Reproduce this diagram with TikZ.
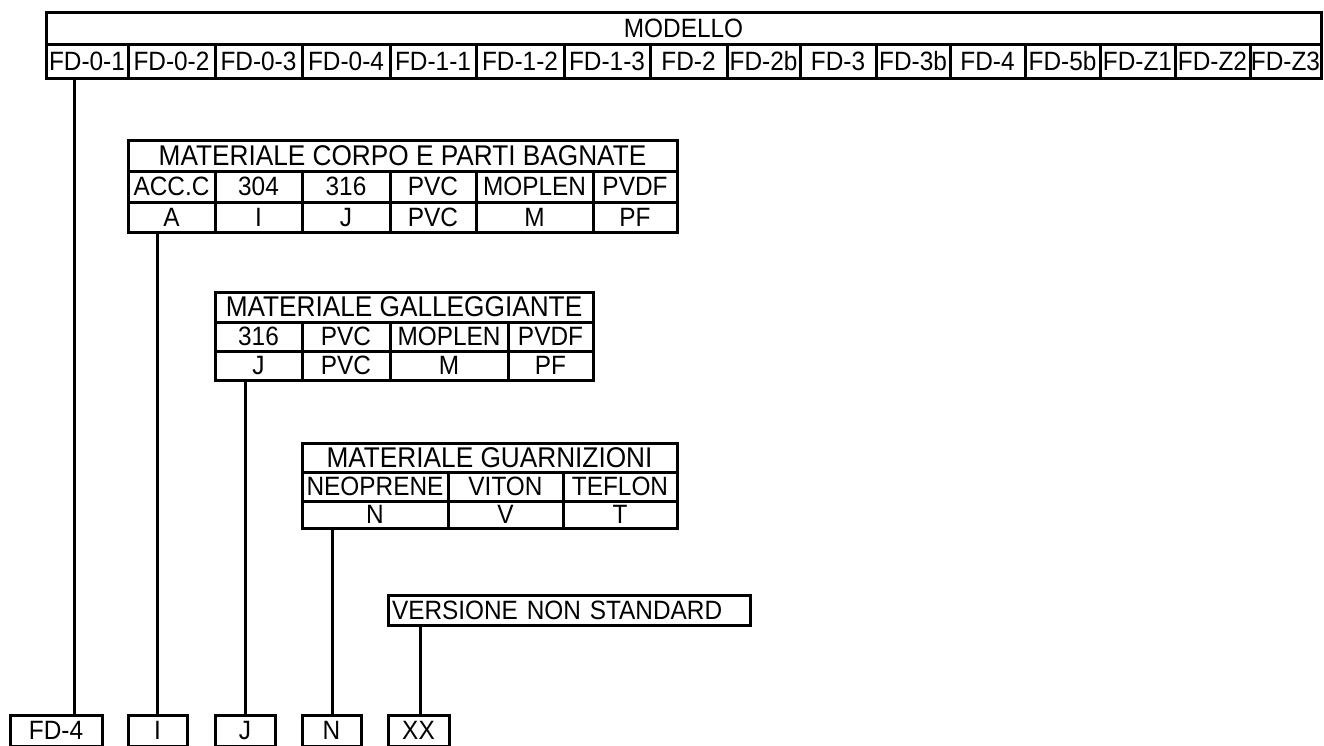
\documentclass[tikz,border=0pt]{standalone}
\usepackage{fontspec}
\setmainfont{Liberation Sans}[FakeStretch=0.92]
\begin{document}
\begin{tikzpicture}[x=1pt,y=-1pt,
  cellbox/.style={draw=black, line width=3pt, inner sep=0pt, outer sep=0pt,
    font=\fontsize{26.5}{28}\selectfont, text height=18.5pt, text depth=0pt},
  headbox/.style={cellbox, font=\fontsize{28.5}{30}\selectfont, text height=19.5pt},
  link/.style={draw=black, line width=3pt}]
\useasboundingbox (0,0) rectangle (1324,745);
\newcommand\tcell[7][]{\node[cellbox, #1, minimum width={(#5-#3)*1pt}, minimum height={(#6-#4)*1pt}, anchor=north west] (#2) at (#3,#4) {#7};}
% ---- MODELLO
\tcell{modello}{46}{12}{1321}{44}{MODELLO}
\tcell{m1}{46}{44}{128}{78}{FD-0-1}
\tcell{m2}{128}{44}{215}{78}{FD-0-2}
\tcell{m3}{215}{44}{302}{78}{FD-0-3}
\tcell{m4}{302}{44}{390}{78}{FD-0-4}
\tcell{m5}{390}{44}{476}{78}{FD-1-1}
\tcell{m6}{476}{44}{564}{78}{FD-1-2}
\tcell{m7}{564}{44}{650}{78}{FD-1-3}
\tcell{m8}{650}{44}{727}{78}{FD-2}
\tcell{m9}{727}{44}{800}{78}{FD-2b}
\tcell{m10}{800}{44}{876}{78}{FD-3}
\tcell{m11}{876}{44}{950}{78}{FD-3b}
\tcell{m12}{950}{44}{1025}{78}{FD-4}
\tcell{m13}{1025}{44}{1100}{78}{FD-5b}
\tcell{m14}{1100}{44}{1175}{78}{FD-Z1}
\tcell{m15}{1175}{44}{1250}{78}{FD-Z2}
\tcell{m16}{1250}{44}{1321}{78}{FD-Z3}
% ---- MATERIALE CORPO
\tcell[headbox]{corpo}{128}{140}{677}{171}{MATERIALE CORPO E PARTI BAGNATE}
\tcell{c1}{128}{171}{215}{202}{ACC.C}
\tcell{c2}{215}{171}{302}{202}{304}
\tcell{c3}{302}{171}{390}{202}{316}
\tcell{c4}{390}{171}{476}{202}{PVC}
\tcell{c5}{476}{171}{593}{202}{MOPLEN}
\tcell{c6}{593}{171}{677}{202}{PVDF}
\tcell{k1}{128}{202}{215}{232}{A}
\tcell{k2}{215}{202}{302}{232}{I}
\tcell{k3}{302}{202}{390}{232}{J}
\tcell{k4}{390}{202}{476}{232}{PVC}
\tcell{k5}{476}{202}{593}{232}{M}
\tcell{k6}{593}{202}{677}{232}{PF}
% ---- MATERIALE GALLEGGIANTE
\tcell[headbox]{gall}{215}{292}{593}{322}{MATERIALE GALLEGGIANTE}
\tcell{g1}{215}{322}{302}{351}{316}
\tcell{g2}{302}{322}{390}{351}{PVC}
\tcell{g3}{390}{322}{508}{351}{MOPLEN}
\tcell{g4}{508}{322}{593}{351}{PVDF}
\tcell{h1}{215}{351}{302}{380}{J}
\tcell{h2}{302}{351}{390}{380}{PVC}
\tcell{h3}{390}{351}{508}{380}{M}
\tcell{h4}{508}{351}{593}{380}{PF}
% ---- MATERIALE GUARNIZIONI
\tcell[headbox]{guar}{302}{443}{677}{472}{MATERIALE GUARNIZIONI}
\tcell{u1}{302}{472}{448}{501}{NEOPRENE}
\tcell{u2}{448}{472}{563}{501}{VITON}
\tcell{u3}{563}{472}{677}{501}{TEFLON}
\tcell{v1}{302}{501}{448}{528}{N}
\tcell{v2}{448}{501}{563}{528}{V}
\tcell{v3}{563}{501}{677}{528}{T}
% ---- VERSIONE
\node[cellbox, anchor=north west, minimum height=30pt, inner xsep=4pt, text width=354pt, align=left] (vers) at (388,595) {VERSIONE NON STANDARD};
% ---- result boxes
\tcell{rfd}{10}{715}{102}{746}{FD-4}
\tcell{ri}{128}{715}{187}{746}{I}
\tcell{rj}{215}{715}{275}{746}{J}
\tcell{rn}{302}{715}{361}{746}{N}
\tcell{rx}{388}{715}{449}{746}{XX}
% ---- connectors
\coordinate (x1) at (74,0);
\coordinate (x2) at (157,0);
\coordinate (x3) at (245,0);
\coordinate (x4) at (332,0);
\coordinate (x5) at (420,0);
\draw[link] (m1.south -| x1) -- (rfd.north -| x1);
\draw[link] (k1.south -| x2) -- (ri.north -| x2);
\draw[link] (h1.south -| x3) -- (rj.north -| x3);
\draw[link] (v1.south -| x4) -- (rn.north -| x4);
\draw[link] (vers.south -| x5) -- (rx.north -| x5);
\end{tikzpicture}
\end{document}
